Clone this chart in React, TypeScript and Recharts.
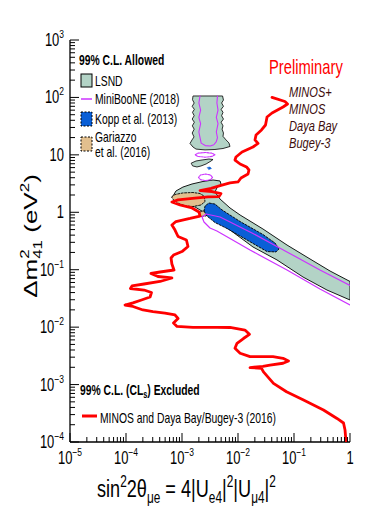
import React from "react";
import { Scatter, ScatterChart, XAxis, YAxis } from "recharts";

type P = [number, number];

// axis ticks
const xMajor = [1e-5, 1e-4, 1e-3, 1e-2, 1e-1, 1];
const xMajorLabels = [["10", "−5"], ["10", "−4"], ["10", "−3"], ["10", "−2"], ["10", "−1"], ["1", ""]];
const yMajor = [1e-4, 1e-3, 1e-2, 1e-1, 1, 10, 100, 1000];
const yMajorLabels = [["10", "−4"], ["10", "−3"], ["10", "−2"], ["10", "−1"], ["1", ""], ["10", ""], ["10", "2"], ["10", "3"]];
const minorMul = [2, 3, 4, 5, 6, 7, 8, 9];

// MINOS + Daya Bay / Bugey-3 99% CLs exclusion contour
const redCurve: P[] = [
  [0.0405, 100], [0.069, 84.9], [0.0766, 76.9], [0.0637, 68.1], [0.0405, 53.6], [0.033, 45.6],
  [0.031, 33.1], [0.0263, 27.1], [0.021, 22.2], [0.0201, 18.2], [0.0228, 15.8], [0.0185, 13.7],
  [0.0118, 11.2], [0.0092, 9.18], [0.00883, 8.13], [0.0109, 6.93], [0.0142, 6.15], [0.0157, 5.45],
  [0.0151, 4.64], [0.0113, 3.95], [0.01, 3.37], [0.0072, 3.24], [0.00497, 2.93], [0.0033, 2.6],
  [0.0021, 2.39], [0.00344, 2.3], [0.00497, 2.12], [0.00458, 1.88], [0.00291, 1.85], [0.0017, 1.77],
  [0.00085, 1.64], [0.00066, 1.51], [0.00092, 1.34], [0.00151, 1.19], [0.00201, 1.01], [0.0021, 0.861],
  [0.00139, 0.78], [0.00078, 0.69], [0.00066, 0.6], [0.00075, 0.49], [0.00085, 0.379], [0.0012, 0.329],
  [0.00128, 0.254], [0.001, 0.207], [0.000705, 0.18], [0.000637, 0.16], [0.00066, 0.126], [0.00072, 0.0989],
  [0.000405, 0.0912], [0.000279, 0.0859], [0.000372, 0.0762], [0.00066, 0.0718], [0.000405, 0.0624],
  [0.00021, 0.0564], [0.000128, 0.0521], [0.00012, 0.0471], [0.00021, 0.0443], [0.000285, 0.0401],
  [0.000269, 0.0335], [0.000189, 0.0297], [0.000133, 0.0264], [0.000096, 0.0243], [0.000133, 0.0229],
  [0.000201, 0.0199], [0.000303, 0.0187], [0.000497, 0.0176], [0.00075, 0.0163], [0.00085, 0.0142],
  [0.000705, 0.0118], [0.000815, 0.0103], [0.00157, 0.00993], [0.00422, 0.00993], [0.0072, 0.00986],
  [0.0133, 0.0089], [0.016, 0.00751], [0.0125, 0.00634], [0.0096, 0.00524], [0.00883, 0.00428],
  [0.0109, 0.00351], [0.0164, 0.00306], [0.0422, 0.00306], [0.0637, 0.00287], [0.0798, 0.00258],
  [0.0637, 0.00235], [0.0372, 0.00219], [0.0279, 0.00207], [0.0164, 0.00198], [0.0263, 0.00192],
  [0.0285, 0.00166], [0.043, 0.00105], [0.0735, 0.00075], [0.148, 0.00054], [0.336, 0.00036],
  [0.586, 0.000257], [0.766, 0.000214], [0.815, 0.000162], [0.85, 0.0001],
];

// LSND allowed regions
const lsndColumn: P[] = [
  [0.0016, 106], [0.0053, 106], [0.0055, 90], [0.0051, 80], [0.0055, 70], [0.005, 62], [0.0054, 55],
  [0.0051, 48], [0.0055, 42], [0.005, 37], [0.0054, 32], [0.0052, 28], [0.0055, 24], [0.0054, 21],
  [0.00611, 18.2], [0.0069, 16.1], [0.0072, 14], [0.0054, 12.9], [0.00388, 12.4], [0.00258, 12.2],
  [0.00178, 12.6], [0.00157, 13.7], [0.00139, 15.8], [0.00151, 18.2], [0.00164, 20.5], [0.00152, 24],
  [0.00165, 28], [0.00153, 32], [0.00166, 37], [0.00152, 42], [0.00165, 48], [0.00154, 55],
  [0.00166, 62], [0.00152, 70], [0.00165, 80], [0.00155, 90],
];
const lsndIsland: P[] = [
  [0.00148, 7.21], [0.00178, 7.82], [0.00228, 8.14], [0.00303, 8.47], [0.00358, 8.3], [0.0033, 7.82],
  [0.00269, 6.93], [0.00218, 6.4], [0.00185, 6.15], [0.00157, 6.4],
];
const lsndMain: P[] = [
  [0.00069, 1.92], [0.00078, 2.35], [0.00104, 2.75], [0.00151, 3.11], [0.00237, 3.44], [0.00358, 3.65],
  [0.00478, 3.51], [0.00497, 3.11], [0.0042, 2.65], [0.00388, 2.25], [0.00478, 1.7], [0.0072, 1.19],
  [0.0109, 0.897], [0.0279, 0.512], [0.075, 0.269], [0.193, 0.154], [0.44, 0.095], [1, 0.0624],
  [1, 0.0297], [0.388, 0.0443], [0.145, 0.0746], [0.0497, 0.148], [0.0185, 0.249], [0.0072, 0.492],
  [0.00388, 0.734], [0.00258, 0.972], [0.0017, 1.24], [0.00113, 1.39], [0.00078, 1.57],
];

// Gariazzo et al. (2016)
const gariazzo: P[] = [
  [0.00065, 1.85], [0.00075, 2.04], [0.00104, 2.17], [0.00157, 2.21], [0.0021, 2.12], [0.00247, 1.92],
  [0.00258, 1.54], [0.00218, 1.34], [0.00157, 1.26], [0.00118, 1.29], [0.00088, 1.42], [0.00072, 1.6],
];
const gariazzoLobe: P[] = [
  [0.00214, 1.03], [0.00258, 1.07], [0.00285, 0.972], [0.00269, 0.861], [0.00223, 0.845], [0.00205, 0.933],
];

// Kopp et al. (2013)
const kopp: P[] = [
  [0.00247, 1.05], [0.00258, 1.29], [0.00303, 1.45], [0.00388, 1.39], [0.00518, 1.1], [0.0109, 0.69],
  [0.0279, 0.41], [0.0458, 0.292], [0.054, 0.23], [0.0477, 0.204], [0.033, 0.207], [0.0145, 0.329],
  [0.00637, 0.522], [0.00388, 0.664], [0.00279, 0.861],
];
const koppDot: P[] = [[0.00285, 6.03], [0.00316, 6.15], [0.00336, 5.79], [0.00303, 5.56]];

// MiniBooNE (2018)
const mbColumn: P[] = [
  [0.0021, 106], [0.002, 80], [0.00215, 60], [0.002, 45], [0.00215, 35], [0.002, 25], [0.0021, 20],
  [0.0022, 16], [0.0026, 14.5], [0.0032, 14.3], [0.0037, 15], [0.0041, 17], [0.0043, 20], [0.0041, 25],
  [0.0044, 35], [0.0041, 45], [0.0044, 60], [0.0042, 80], [0.0043, 106],
];
const mbRing1: P[] = [
  [0.00388, 10], [0.00344, 9.4], [0.00258, 9.1], [0.00193, 9.4], [0.00171, 10], [0.00193, 10.7],
  [0.00258, 11], [0.00344, 10.7],
];
const mbRing2: P[] = [
  [0.00351, 4.06], [0.00323, 3.71], [0.00263, 3.56], [0.00214, 3.71], [0.00197, 4.06], [0.00214, 4.46],
  [0.00263, 4.64], [0.00323, 4.46],
];
const mbBand: P[] = [
  [1, 0.0243], [0.291, 0.0461], [0.075, 0.0989], [0.0164, 0.22], [0.0072, 0.35], [0.0042, 0.472],
  [0.00316, 0.532], [0.00247, 0.678], [0.00228, 0.828], [0.00269, 0.933], [0.00478, 0.828],
  [0.0185, 0.428], [0.075, 0.204], [0.291, 0.0989], [1, 0.0531],
];

const FONT = "'Liberation Sans', Arial, Helvetica, sans-serif";
const SX = 0.74;
const GREEN = "#b3d3c6";
const BLUE = "#0a5fd6";
const TAN = "#e2bf8e";
const MAG = "#cc33ff";
const RED = "#ff0000";

const pts = (a: P[]) => a.map(([x, y]) => ({ x, y }));

type Style = { fill?: string; stroke: string; width: number; dash?: string; closed: boolean };

const layers: { key: string; data: P[]; style: Style }[] = [
  { key: "lsndColumn", data: lsndColumn, style: { fill: GREEN, stroke: "#000", width: 0.8, closed: true } },
  { key: "lsndIsland", data: lsndIsland, style: { fill: GREEN, stroke: "#000", width: 0.8, closed: true } },
  { key: "lsndMain", data: lsndMain, style: { fill: GREEN, stroke: "#000", width: 0.9, closed: true } },
  { key: "gariazzo", data: gariazzo, style: { fill: TAN, stroke: "#000", width: 0.9, dash: "2 1.5", closed: true } },
  { key: "gariazzoLobe", data: gariazzoLobe, style: { fill: TAN, stroke: "#000", width: 0.8, dash: "2 1.5", closed: true } },
  { key: "kopp", data: kopp, style: { fill: BLUE, stroke: "#000", width: 0.9, dash: "2 1.5", closed: true } },
  { key: "koppDot", data: koppDot, style: { fill: BLUE, stroke: BLUE, width: 0.5, closed: true } },
  { key: "mbColumn", data: mbColumn, style: { stroke: MAG, width: 1.1, closed: false } },
  { key: "mbRing1", data: mbRing1, style: { stroke: MAG, width: 1.1, dash: "2 1", closed: true } },
  { key: "mbRing2", data: mbRing2, style: { stroke: MAG, width: 1.1, dash: "2 1", closed: true } },
  { key: "mbBand", data: mbBand, style: { stroke: MAG, width: 1.2, closed: false } },
  { key: "red", data: redCurve, style: { stroke: RED, width: 2.8, closed: false } },
];

function outline(s: Style) {
  return (props: any) => {
    const p: { x: number; y: number }[] = props.points || [];
    const d = p.map((q, i) => `${i ? "L" : "M"}${q.x.toFixed(2)},${q.y.toFixed(2)}`).join(" ") + (s.closed ? " Z" : "");
    return (
      <path
        d={d}
        fill={s.fill ?? "none"}
        stroke={s.stroke}
        strokeWidth={s.width}
        strokeDasharray={s.dash}
        strokeLinejoin="round"
        strokeLinecap="round"
      />
    );
  };
}

function majorIndex(list: number[], v: number) {
  return list.findIndex((m) => Math.abs(v / m - 1) < 1e-6);
}

const xTicks = [...xMajor, ...xMajor.slice(0, -1).flatMap((m) => minorMul.map((k) => m * k))];
const yTicks = [...yMajor, ...yMajor.slice(0, -1).flatMap((m) => minorMul.map((k) => m * k))];

function TickLabel({ x, y, anchor, lab }: { x: number; y: number; anchor: "middle" | "end"; lab: string[] }) {
  return (
    <text transform={`translate(${x},${y}) scale(${SX},1)`} textAnchor={anchor} fontSize={17.5} fontFamily={FONT} fill="#000">
      {lab[0]}
      {lab[1] && (
        <tspan fontSize={11.5} dy={-8}>
          {lab[1]}
        </tspan>
      )}
    </text>
  );
}

function BottomTick(props: any) {
  const { x, y, payload } = props;
  const i = majorIndex(xMajor, payload.value);
  return (
    <g>
      <line x1={x} x2={x} y1={y} y2={y - (i >= 0 ? 9 : 5)} stroke="#000" />
      {i >= 0 && <TickLabel x={x} y={y + 22} anchor="middle" lab={xMajorLabels[i]} />}
    </g>
  );
}

function TopTick(props: any) {
  const { x, y, payload } = props;
  const i = majorIndex(xMajor, payload.value);
  return <line x1={x} x2={x} y1={y} y2={y + (i >= 0 ? 9 : 5)} stroke="#000" />;
}

function LeftTick(props: any) {
  const { x, y, payload } = props;
  const i = majorIndex(yMajor, payload.value);
  return (
    <g>
      <line x1={x} x2={x + (i >= 0 ? 9 : 5)} y1={y} y2={y} stroke="#000" />
      {i >= 0 && <TickLabel x={x - 6} y={y + 6} anchor="end" lab={yMajorLabels[i]} />}
    </g>
  );
}

function RightTick(props: any) {
  const { x, y, payload } = props;
  const i = majorIndex(yMajor, payload.value);
  return <line x1={x} x2={x - (i >= 0 ? 9 : 5)} y1={y} y2={y} stroke="#000" />;
}

function T(props: {
  x: number;
  y: number;
  size: number;
  children: React.ReactNode;
  bold?: boolean;
  italic?: boolean;
  fill?: string;
  sx?: number;
}) {
  return (
    <text
      transform={`translate(${props.x},${props.y}) scale(${props.sx ?? SX},1)`}
      fontSize={props.size}
      fontFamily={FONT}
      fontWeight={props.bold ? "bold" : "normal"}
      fontStyle={props.italic ? "italic" : "normal"}
      fill={props.fill ?? "#000"}
    >
      {props.children}
    </text>
  );
}

function Overlay() {
  return (
    <svg width={390} height={512} style={{ position: "absolute", left: 0, top: 0, pointerEvents: "none" }}>
      {/* allowed legend */}
      <T x={79} y={65} size={14} bold>
        99% C.L. Allowed
      </T>
      <rect x={81} y={74} width={11} height={13} fill={GREEN} stroke="#000" strokeWidth={1} />
      <T x={95} y={85.5} size={14}>LSND</T>
      <line x1={81} x2={92} y1={99} y2={99} stroke={MAG} strokeWidth={1.5} />
      <T x={95} y={104} size={14}>MiniBooNE (2018)</T>
      <rect x={81} y={112} width={11} height={14} fill={BLUE} stroke="#000" strokeWidth={1} strokeDasharray="2 1.5" />
      <T x={95} y={124} size={14}>Kopp et al. (2013)</T>
      <rect x={81} y={137} width={11} height={14} fill={TAN} stroke="#000" strokeWidth={1} strokeDasharray="2 1.5" />
      <T x={95} y={142} size={14}>Gariazzo</T>
      <T x={95} y={157} size={14}>et al. (2016)</T>

      {/* preliminary + experiments */}
      <T x={269} y={73.5} size={20.5} fill={RED} sx={0.72}>
        Preliminary
      </T>
      <T x={289} y={97} size={15} italic fill="#3d0d0d">MINOS+</T>
      <T x={289} y={114} size={15} italic fill="#3d0d0d">MINOS</T>
      <T x={289} y={131} size={15} italic fill="#3d0d0d">Daya Bay</T>
      <T x={289} y={148} size={15} italic fill="#3d0d0d">Bugey-3</T>

      {/* excluded legend */}
      <T x={80} y={394.5} size={14} bold>
        99% C.L. (CL<tspan fontSize={10} dy={3}>s</tspan>
        <tspan dy={-3}>) Excluded</tspan>
      </T>
      <line x1={82} x2={97} y1={416} y2={416} stroke={RED} strokeWidth={3} />
      <T x={100} y={422.5} size={14}>MINOS and Daya Bay/Bugey-3 (2016)</T>

      {/* axis titles */}
      <text
        transform="translate(37,236) rotate(-90) scale(1,0.74)"
        textAnchor="middle"
        fontSize={26}
        fontFamily={FONT}
        fill="#000"
      >
        Δm
        <tspan fontSize={17} dy={-11}>2</tspan>
        <tspan fontSize={17} dx={-9.5} dy={18}>41</tspan>
        <tspan dy={-7}> (eV</tspan>
        <tspan fontSize={17} dy={-11}>2</tspan>
        <tspan dy={11}>)</tspan>
      </text>
      <T x={97} y={497} size={24.5}>
        sin<tspan fontSize={16} dy={-10}>2</tspan>
        <tspan dy={10}>2θ</tspan>
        <tspan fontSize={16} dy={6}>μe</tspan>
        <tspan dy={-6}> = 4|U</tspan>
        <tspan fontSize={16} dy={6}>e4</tspan>
        <tspan dy={-6}>|</tspan>
        <tspan fontSize={16} dy={-10}>2</tspan>
        <tspan dy={10}>|U</tspan>
        <tspan fontSize={16} dy={6}>μ4</tspan>
        <tspan dy={-6}>|</tspan>
        <tspan fontSize={16} dy={-10}>2</tspan>
      </T>
    </svg>
  );
}

export default function App() {
  const axisLine = { stroke: "#000", strokeWidth: 1.3 };
  return (
    <div style={{ position: "absolute", left: 0, top: 0, width: 390, height: 512, background: "#fff" }}>
      <ScatterChart width={390} height={512} margin={{ top: 40, right: 40, bottom: 0, left: 0 }}>
        <XAxis
          xAxisId="b"
          type="number"
          dataKey="x"
          scale="log"
          domain={[1e-5, 1]}
          allowDataOverflow
          ticks={xTicks}
          interval={0}
          height={70}
          tickSize={0}
          tickMargin={0}
          tickLine={false}
          tick={(p: any) => <BottomTick {...p} />}
          axisLine={axisLine}
        />
        <XAxis
          xAxisId="t"
          orientation="top"
          type="number"
          dataKey="x"
          scale="log"
          domain={[1e-5, 1]}
          allowDataOverflow
          ticks={xTicks}
          interval={0}
          height={0}
          tickSize={0}
          tickMargin={0}
          tickLine={false}
          tick={(p: any) => <TopTick {...p} />}
          axisLine={axisLine}
        />
        <YAxis
          yAxisId="l"
          type="number"
          dataKey="y"
          scale="log"
          domain={[1e-4, 1e3]}
          allowDataOverflow
          ticks={yTicks}
          interval={0}
          width={70}
          tickSize={0}
          tickMargin={0}
          tickLine={false}
          tick={(p: any) => <LeftTick {...p} />}
          axisLine={axisLine}
        />
        <YAxis
          yAxisId="r"
          orientation="right"
          type="number"
          dataKey="y"
          scale="log"
          domain={[1e-4, 1e3]}
          allowDataOverflow
          ticks={yTicks}
          interval={0}
          width={0}
          tickSize={0}
          tickMargin={0}
          tickLine={false}
          tick={(p: any) => <RightTick {...p} />}
          axisLine={axisLine}
        />
        {layers.map((l) => (
          <Scatter
            key={l.key}
            name={l.key}
            xAxisId="b"
            yAxisId="l"
            data={pts(l.data)}
            line={outline(l.style)}
            lineType="joint"
            shape={() => <g />}
            isAnimationActive={false}
          />
        ))}
      </ScatterChart>
      <Overlay />
    </div>
  );
}
